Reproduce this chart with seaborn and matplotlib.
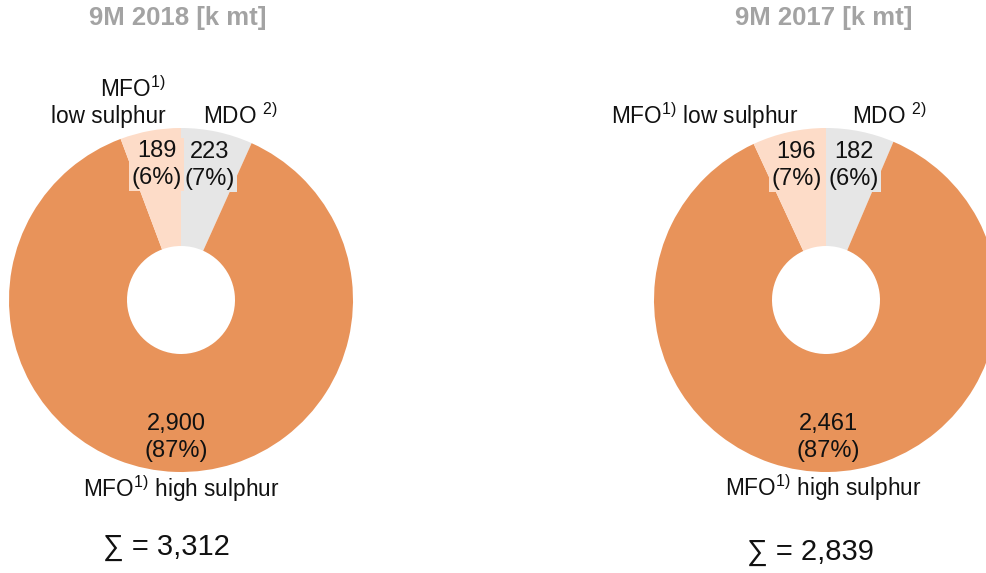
import matplotlib
matplotlib.use("Agg")
import matplotlib.pyplot as plt
import seaborn as sns
import numpy as np

# ---- data ----
categories = ["MDO", "MFO high sulphur", "MFO low sulphur"]
values_2018 = [223, 2900, 189]
pct_2018 = [7, 87, 6]
values_2017 = [182, 2461, 196]
pct_2017 = [6, 87, 7]
titles = ["9M 2018 [k mt]", "9M 2017 [k mt]"]
totals = ["3,312", "2,839"]
colors = ["#E6E6E6", "#E8935A", "#FDDCC8"]

sns.set_theme(style="white")
plt.rcParams['font.family'] = ['Liberation Sans', 'DejaVu Sans']
plt.rcParams['mathtext.fontset'] = 'custom'
plt.rcParams['mathtext.rm'] = 'Liberation Sans'
plt.rcParams['mathtext.it'] = 'Liberation Sans'

W, H = 987, 573
fig = plt.figure(figsize=(W / 100, H / 100), dpi=100)
ax = fig.add_axes([0, 0, 1, 1])


def Y(y):
    return H - y


R = 172
HOLE = 54
LBL = 17
CAT = 16.3
TXT = "#111111"

charts = [
    dict(cx=181, vals=values_2018, pcts=pct_2018, title=titles[0], total=totals[0],
         title_x=178, sum_x=166, sum_y=547, hs_x=181, hs_y=489),
    dict(cx=826, vals=values_2017, pcts=pct_2017, title=titles[1], total=totals[1],
         title_x=824, sum_x=810, sum_y=552, hs_x=823, hs_y=488),
]

for c in charts:
    cy = Y(300)
    wedges, _ = ax.pie(c["vals"], colors=colors, startangle=90, counterclock=False,
                       center=(c["cx"], cy), radius=R,
                       wedgeprops=dict(width=R - HOLE, edgecolor="none"))
    for w, v, p, col in zip(wedges, c["vals"], c["pcts"], colors):
        th = np.deg2rad((w.theta1 + w.theta2) / 2)
        d = 0.8 * R
        x = c["cx"] + d * np.cos(th)
        y = cy + d * np.sin(th)
        ax.text(x, y, f"{v:,}\n({p}%)", ha="center", va="center", fontsize=LBL,
                color=TXT, linespacing=1.3,
                bbox=dict(boxstyle="square,pad=0.08", fc=col, ec="none"))
    ax.text(c["title_x"], Y(18), c["title"], ha="center", va="center",
            fontsize=18.5, fontweight="bold", color="#A3A3A3")
    ax.text(c["hs_x"], Y(c["hs_y"]), r"MFO$^{1)}$ high sulphur", ha="center",
            va="center", fontsize=CAT, color=TXT)
    ax.text(c["sum_x"], Y(c["sum_y"]), "∑ = " + c["total"], ha="center",
            va="center", fontsize=21, color=TXT)

# outer category labels
ax.text(166, Y(102), "MFO$^{1)}$\nlow sulphur", ha="right", va="center",
        multialignment="right", fontsize=CAT, color=TXT, linespacing=1.2)
ax.text(203, Y(116), r"MDO $^{2)}$", ha="left", va="center", fontsize=CAT, color=TXT)
ax.text(799, Y(116), r"MFO$^{1)}$ low sulphur", ha="right", va="center",
        fontsize=CAT, color=TXT)
ax.text(852, Y(116), r"MDO $^{2)}$", ha="left", va="center", fontsize=CAT, color=TXT)

ax.set_xlim(0, W)
ax.set_ylim(0, H)
ax.set_aspect("equal")
ax.axis("off")

fig.savefig("out.png", dpi=100)
